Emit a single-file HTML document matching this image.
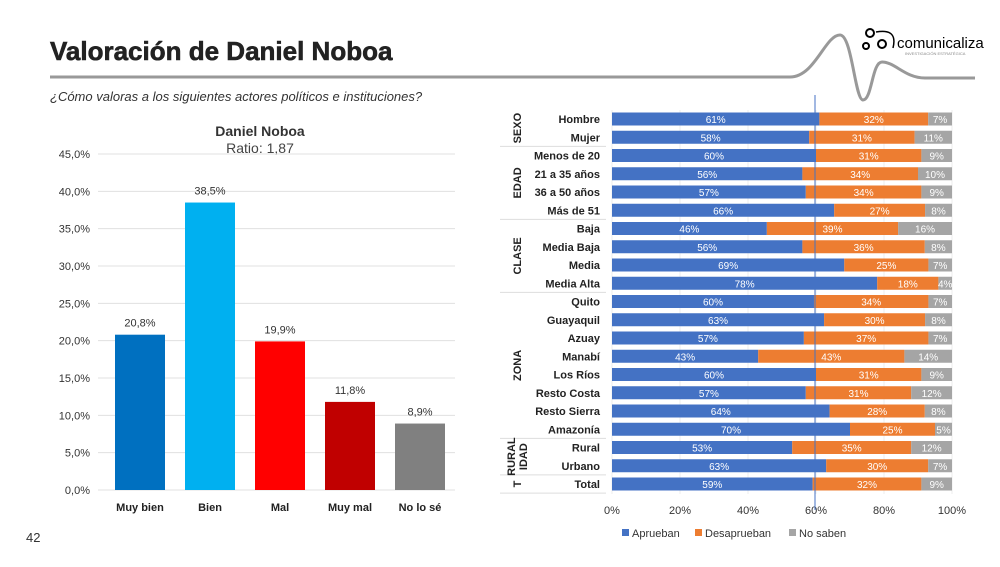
<!DOCTYPE html>
<html><head><meta charset="utf-8"><style>
body{margin:0;width:1000px;height:562px;background:#fff;font-family:"Liberation Sans",sans-serif;position:relative;overflow:hidden}
svg text{font-family:"Liberation Sans",sans-serif}
</style></head><body>
<svg width="1000" height="562">
<text x="50" y="60" font-size="26" font-weight="bold" fill="#222" stroke="#222" stroke-width="0.6">Valoración de Daniel Noboa</text>
<path d="M50,77 L790,77 C815,77 825,35 840,35 C852,35 855,100 863,100 C872,100 872,62 882,62 C895,62 905,78 925,78 L975,78" fill="none" stroke="#999" stroke-width="3"/>
<g>
<circle cx="870" cy="33" r="4" fill="none" stroke="#000" stroke-width="2"/><circle cx="866" cy="46" r="3" fill="none" stroke="#000" stroke-width="2"/><circle cx="882" cy="44" r="4" fill="none" stroke="#000" stroke-width="2"/>
<path d="M876,32 Q898,28 893,48" fill="none" stroke="#000" stroke-width="1.5"/>
<text x="897" y="48" font-size="15" fill="#000">comunicaliza</text>
<text x="905" y="55" font-size="4" fill="#888">INVESTIGACIÓN ESTRATÉGICA</text></g>
<text x="50" y="101" font-size="13" font-style="italic" fill="#333">¿Cómo valoras a los siguientes actores políticos e instituciones?</text>
<text x="26" y="542" font-size="13" fill="#333">42</text>
<g id="left"></g>
<g id="right"></g>
</svg>
<script>
const ns="http://www.w3.org/2000/svg";
function mk(p,tag,a,txt){const e=document.createElementNS(ns,tag);for(const k in a)e.setAttribute(k,a[k]);if(txt!==undefined)e.textContent=txt;p.appendChild(e);return e;}
// left chart
const cats=["Muy bien","Bien","Mal","Muy mal","No lo sé"];
const vals=[20.8,38.5,19.9,11.8,8.9];
const ticks=[0,5,10,15,20,25,30,35,40,45];
const L=document.getElementById('left');
const colors=["#0070C0","#00B0F0","#FF0000","#C00000","#808080"];
const y0=490,y1=154,x0=105,x1=455,gx0=98;
const ys=v=>y0-(v/45)*(y0-y1);
let t=mk(L,'text',{x:260,y:136,'text-anchor':'middle','font-size':14,'font-weight':'bold',fill:'#333'},'Daniel Noboa');

t=mk(L,'text',{x:260,y:153,'text-anchor':'middle','font-size':14,fill:'#444'},'Ratio: 1,87');

ticks.forEach(v=>{const g=mk(L,'line',{x1:gx0,x2:x1,y1:ys(v),y2:ys(v),stroke:'#e0e0e0'});

const tl=mk(L,'text',{x:90,y:ys(v)+4,'text-anchor':'end','font-size':11,fill:'#333'},v.toFixed(1).replace('.',',')+'%');
});
const bw=(x1-x0)/cats.length;
cats.forEach((c,i)=>{const cx=x0+bw*(i+0.5);
const r=mk(L,'rect',{x:cx-25,y:ys(vals[i]),width:50,height:y0-ys(vals[i]),fill:colors[i]});

const v=mk(L,'text',{x:cx,y:ys(vals[i])-8,'text-anchor':'middle','font-size':11,fill:'#333'},vals[i].toFixed(1).replace('.',',')+'%');

const lb=mk(L,'text',{x:cx,y:511,'text-anchor':'middle','font-size':11,'font-weight':'bold',fill:'#222'},c);
});
// right chart
const rows=["Hombre","Mujer","Menos de 20","21 a 35 años","36 a 50 años","Más de 51","Baja","Media Baja","Media","Media Alta","Quito","Guayaquil","Azuay","Manabí","Los Ríos","Resto Costa","Resto Sierra","Amazonía","Rural","Urbano","Total"];
const aprueban=[61,58,60,56,57,66,46,56,69,78,60,63,57,43,60,57,64,70,53,63,59];
const desaprueban=[32,31,31,34,34,27,39,36,25,18,34,30,37,43,31,31,28,25,35,30,32];
const nosaben=[7,11,9,10,9,8,16,8,7,4,7,8,7,14,9,12,8,5,12,7,9];
const groups=[["SEXO",0,1],["EDAD",2,5],["CLASE",6,9],["ZONA",10,17],["RURAL IDAD",18,19],["T",20,20]];
const xt=[0,20,40,60,80,100];
const R=document.getElementById('right');
const px0=612,px1=952,ry0=119,rs=18.25,bh=13;
const xs=v=>px0+(v/100)*(px1-px0);
const ry=i=>ry0+i*rs;
xt.forEach(v=>{const g=mk(R,'line',{x1:xs(v),x2:xs(v),y1:110,y2:494,stroke:'#eee'});

const tl=mk(R,'text',{x:xs(v),y:514,'text-anchor':'middle','font-size':11,fill:'#333'},v+'%');
});
const serCols=["#4472C4","#ED7D31","#A5A5A5"];
rows.forEach((r,i)=>{const tot=aprueban[i]+desaprueban[i]+nosaben[i];const parts=[aprueban[i],desaprueban[i],nosaben[i]];let acc=0;
parts.forEach((p,k)=>{const a=acc/tot*100,b=(acc+p)/tot*100;acc+=p;
const rc=mk(R,'rect',{x:xs(a),y:ry(i)-bh/2,width:xs(b)-xs(a),height:bh,fill:serCols[k]});

const tv=mk(R,'text',{x:(xs(a)+xs(b))/2,y:ry(i)+4,'text-anchor':'middle','font-size':10,fill:'#fff'},p+'%');
});
const lb=mk(R,'text',{x:600,y:ry(i)+4,'text-anchor':'end','font-size':11,'font-weight':'bold',fill:'#222'},r);
});
groups.forEach(([n,a,b],gi)=>{const yt=ry(a)-rs/2,yb=ry(b)+rs/2;
const ln=mk(R,'line',{x1:500,x2:606,y1:yb,y2:yb,stroke:'#ddd'});

const cy=(yt+yb)/2;const parts=n.split(' ');
parts.forEach((p,j)=>{const xx=518+(j-(parts.length-1)/2)*12;
const tx=mk(R,'text',{x:xx,y:cy,'text-anchor':'middle','font-size':11,'font-weight':'bold',fill:'#222',transform:`rotate(-90 ${xx} ${cy})`,'dominant-baseline':'middle'},p);
});});
const vl=mk(R,'line',{x1:815,x2:815,y1:95,y2:510,stroke:'#4472C4','stroke-width':1});

const legend=[["Aprueban",622],["Desaprueban",695],["No saben",789]];
legend.forEach(([n,x],k)=>{const s=mk(R,'rect',{x:x,y:529,width:7,height:7,fill:serCols[k]});

const tl=mk(R,'text',{x:x+10,y:537,'font-size':11,fill:'#333'},n);
});
</script>
</body></html>
